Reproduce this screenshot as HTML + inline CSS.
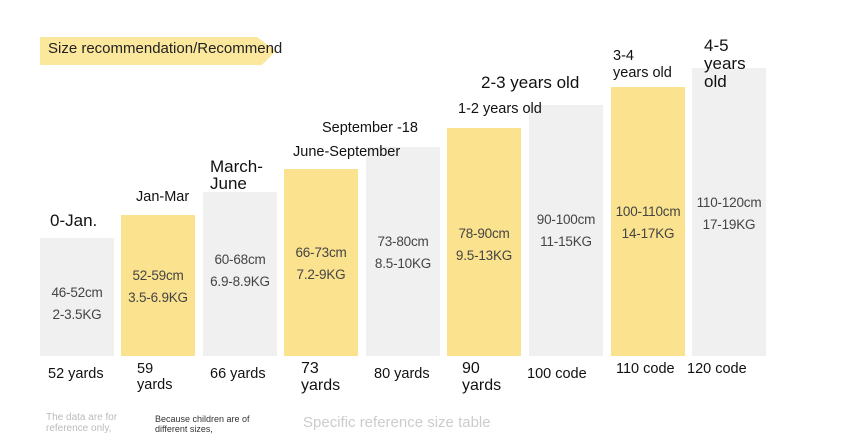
<!DOCTYPE html>
<html><head><style>
body{margin:0;width:844px;height:444px;background:#fff;position:relative;overflow:hidden;font-family:"Liberation Sans","DejaVu Sans",sans-serif;}
.a{position:absolute;white-space:nowrap;}
.bar{position:absolute;bottom:88px;width:74px;}
.g{background:#f0f0f0}.y{background:#fbe28e}
.v{position:absolute;width:74px;text-align:center;font-size:13.5px;color:#444;line-height:22px;font-family:"Liberation Sans",sans-serif;letter-spacing:-0.2px}
.l{font-size:14.5px;color:#111}
.big{font-size:17px;color:#111;line-height:17px}
</style></head><body>
<div class="a" style="left:40px;top:37px;width:236px;height:28px;background:#fce89c;clip-path:polygon(0 0,92% 0,100% 50%,94% 100%,0 100%)"></div>
<div class="a" style="left:48px;top:40px;font-size:15px;color:#222">Size recommendation/Recommend</div>

<div class="bar g" style="left:40px;top:238px"></div>
<div class="bar y" style="left:121px;top:215px"></div>
<div class="bar g" style="left:203px;top:192px"></div>
<div class="bar y" style="left:284px;top:169px"></div>
<div class="bar g" style="left:366px;top:147px"></div>
<div class="bar y" style="left:447px;top:128px"></div>
<div class="bar g" style="left:529px;top:105px"></div>
<div class="bar y" style="left:611px;top:87px"></div>
<div class="bar g" style="left:692px;top:68px"></div>

<div class="v" style="left:40px;top:282px">46-52cm<br>2-3.5KG</div>
<div class="v" style="left:121px;top:265px">52-59cm<br>3.5-6.9KG</div>
<div class="v" style="left:203px;top:249px">60-68cm<br>6.9-8.9KG</div>
<div class="v" style="left:284px;top:242px">66-73cm<br>7.2-9KG</div>
<div class="v" style="left:366px;top:231px">73-80cm<br>8.5-10KG</div>
<div class="v" style="left:447px;top:223px">78-90cm<br>9.5-13KG</div>
<div class="v" style="left:529px;top:209px">90-100cm<br>11-15KG</div>
<div class="v" style="left:611px;top:201px">100-110cm<br>14-17KG</div>
<div class="v" style="left:692px;top:192px">110-120cm<br>17-19KG</div>

<div class="a big" style="left:50px;top:212px">0-Jan.</div>
<div class="a l" style="left:136px;top:189px">Jan-Mar</div>
<div class="a big" style="left:210px;top:158px">March-<br>June</div>
<div class="a l" style="left:293px;top:144px">June-September</div>
<div class="a l" style="left:322px;top:120px">September -18</div>
<div class="a l" style="left:458px;top:101px">1-2 years old</div>
<div class="a big" style="left:481px;top:74px">2-3 years old</div>
<div class="a l" style="left:613px;top:48px;line-height:17px">3-4<br>years old</div>
<div class="a big" style="left:704px;top:37px;line-height:18px">4-5<br>years<br>old</div>

<div class="a l" style="left:48px;top:366px">52 yards</div>
<div class="a l" style="left:137px;top:361px;line-height:16px">59<br>yards</div>
<div class="a l" style="left:210px;top:366px">66 yards</div>
<div class="a l" style="left:301px;top:360px;line-height:17px;font-size:16px">73<br>yards</div>
<div class="a l" style="left:374px;top:366px">80 yards</div>
<div class="a l" style="left:462px;top:360px;line-height:17px;font-size:16px">90<br>yards</div>
<div class="a l" style="left:527px;top:366px">100 code</div>
<div class="a l" style="left:616px;top:361px">110 code</div>
<div class="a l" style="left:687px;top:361px">120 code</div>

<div class="a" style="left:46px;top:412px;font-size:10px;color:#bbb;line-height:11px">The data are for<br>reference only,</div>
<div class="a" style="left:155px;top:414px;font-size:9px;color:#333;line-height:10px">Because children are of<br>different sizes,</div>
<div class="a" style="left:303px;top:414px;font-size:15px;color:#ccc">Specific reference size table</div>
</body></html>
